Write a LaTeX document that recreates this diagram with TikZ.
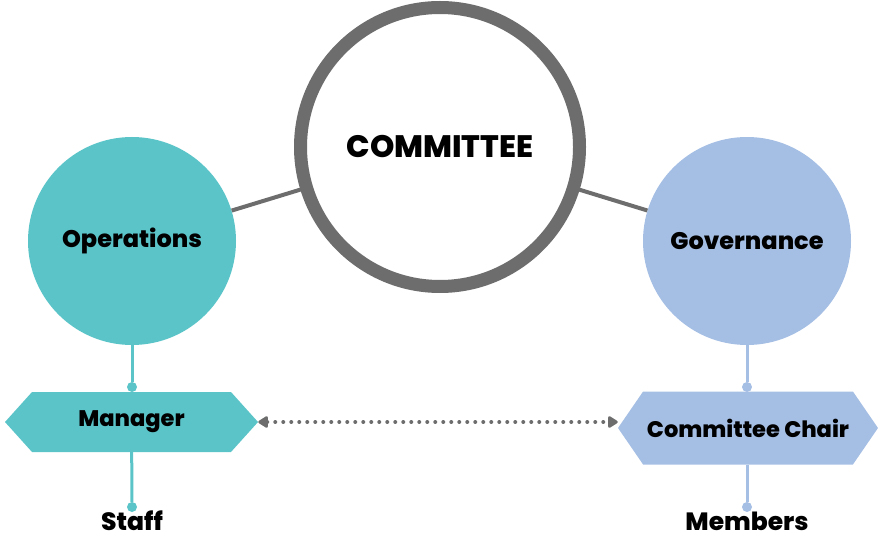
\documentclass[tikz,border=0pt]{standalone}
\usepackage{fontspec}
\setmainfont{Poppins}[BoldFont={Poppins ExtraBold}]
\usetikzlibrary{arrows.meta,shapes.symbols}
\definecolor{opsteal}{HTML}{5BC4C9}
\definecolor{govblue}{HTML}{A5BEE4}
\definecolor{ringgray}{HTML}{6D6D6D}
\tikzset{
    hub/.style={circle, draw=ringgray, line width=13pt, minimum size=279pt,
        inner sep=0pt, font=\bfseries\fontsize{31}{34}\selectfont},
    branch/.style={circle, minimum size=208pt, inner sep=0pt,
        font=\bfseries\fontsize{24}{27}\selectfont},
    rolebox/.style={signal, signal to=west and east, inner sep=0pt,
        font=\bfseries\fontsize{22.5}{25}\selectfont},
    leaf/.style={inner sep=0pt, font=\bfseries\fontsize{25}{28}\selectfont},
    knob/.style={circle, inner sep=0pt, minimum size=10pt},
    spoke/.style={draw=ringgray, line width=4pt},
    stem/.style={line width=3pt},
    dotlink/.style={draw=ringgray, line width=4pt, line cap=round,
        dash pattern=on 0pt off 8pt,
        {Triangle[round, length=11pt, width=13pt]}-{Triangle[round, length=11pt, width=13pt]}},
}
\begin{document}
\begin{tikzpicture}[x=1pt,y=-1pt]
\useasboundingbox (0,0) rectangle (878,540);

% the three circles
\node[branch, fill=opsteal] (ops) at (132,241) {Operations};
\node[branch, fill=govblue] (gov) at (747,241) {Governance};
\draw[spoke] (ops) -- (440,147);
\draw[spoke] (gov) -- (440,147);
\node[hub, fill=white] (comm) at (440,147) {COMMITTEE};

% left branch
\node[rolebox, fill=opsteal, minimum width=253pt, minimum height=60pt,
    signal pointer angle=96] (mgr) at (131.5,422) {Manager};
\node[knob, fill=opsteal] (mgrtop) at (132,387) {};
\node[knob, fill=opsteal] (mgrbot) at (132,507) {};
\node[leaf] (staff) at (132,521) {Staff};
\draw[stem, opsteal] (ops) -- (mgrtop);
\draw[stem, opsteal] (mgr) -- (mgrbot);

% right branch
\node[rolebox, fill=govblue, minimum width=260pt, minimum height=73pt,
    signal pointer angle=111] (chair) at (748,428) {Committee Chair};
\node[knob, fill=govblue] (chairtop) at (747,387) {};
\node[knob, fill=govblue] (chairbot) at (747,507) {};
\node[leaf] (members) at (747,521) {Members};
\draw[stem, govblue] (gov) -- (chairtop);
\draw[stem, govblue] (chair.south -| chairbot) -- (chairbot);

% link between the roles
\draw[dotlink] (mgr.east) -- (mgr.east -| chair.west);
\end{tikzpicture}
\end{document}
